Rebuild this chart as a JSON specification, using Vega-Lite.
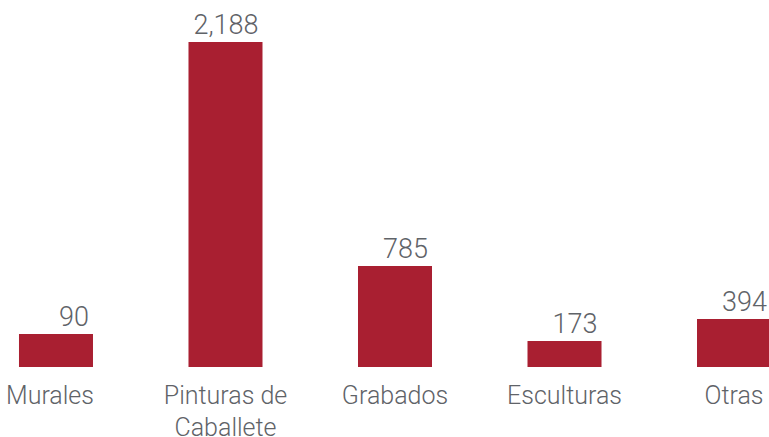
{
  "$schema": "https://vega.github.io/schema/vega-lite/v6.json",
  "width": 769,
  "height": 367,
  "autosize": {"type": "none"},
  "padding": {"left": 0, "top": 0, "right": 0, "bottom": 70},
  "background": "white",
  "config": {"view": {"stroke": null}, "font": "Roboto"},
  "data": {
    "values": [
      {"categoria": "Murales", "valor": 90, "barra": 222},
      {"categoria": "Pinturas de Caballete", "valor": 2188, "barra": 2188},
      {"categoria": "Grabados", "valor": 785, "barra": 680},
      {"categoria": "Esculturas", "valor": 173, "barra": 175},
      {"categoria": "Otras", "valor": 394, "barra": 323}
    ]
  },
  "encoding": {
    "x": {
      "field": "categoria",
      "type": "nominal",
      "sort": null,
      "scale": {"range": [0, 790], "paddingInner": 0.5634, "paddingOuter": 0.112},
      "axis": {
        "title": null,
        "domain": false,
        "ticks": false,
        "tickSize": 0,
        "labelAngle": 0,
        "labelPadding": 16,
        "labelFont": "Roboto",
        "labelFontSize": 25,
        "labelFontWeight": 300,
        "labelColor": "#5f6368",
        "labelLineHeight": 32,
        "labelOffset": {"condition": {"test": "datum.value === 'Murales'", "value": -6}, "value": 0},
        "labelExpr": "datum.value === 'Pinturas de Caballete' ? ['Pinturas de', 'Caballete'] : datum.label"
      }
    }
  },
  "layer": [
    {
      "mark": {"type": "bar", "color": "#A91F31"},
      "encoding": {
        "y": {"field": "barra", "type": "quantitative", "scale": {"domain": [0, 2471], "nice": false, "zero": true}, "axis": null}
      }
    },
    {
      "mark": {"type": "text", "align": "right", "baseline": "alphabetic", "dx": 33, "dy": -8, "font": "Roboto", "fontSize": 27, "fontWeight": 300, "color": "#5f6368"},
      "encoding": {
        "y": {"field": "barra", "type": "quantitative"},
        "text": {"field": "valor", "type": "quantitative", "format": ","}
      }
    }
  ]
}
